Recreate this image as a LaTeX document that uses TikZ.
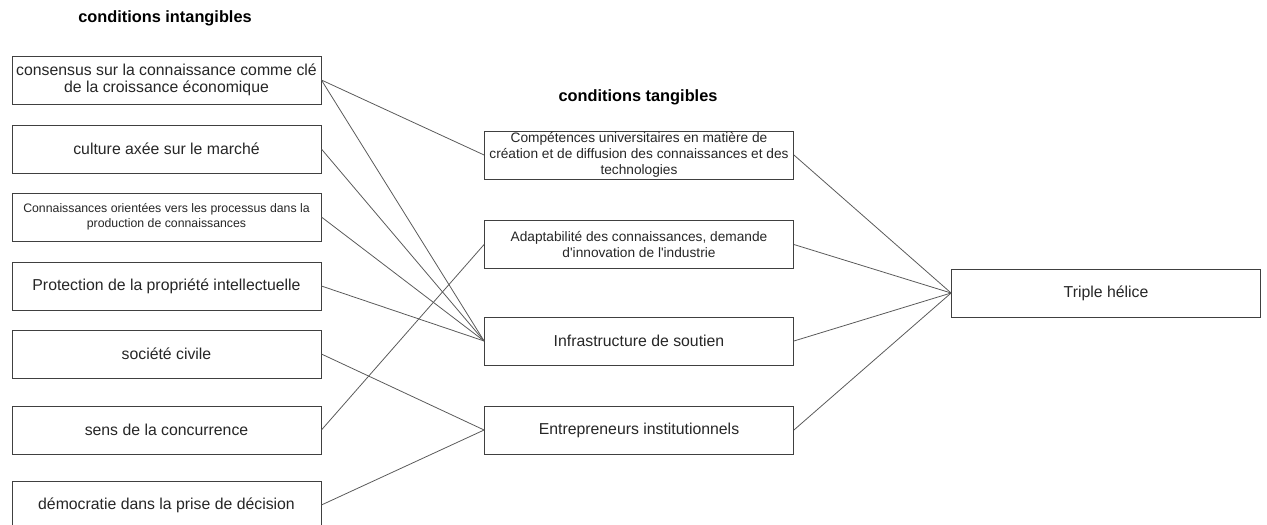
\documentclass[tikz,border=0pt]{standalone}
\usepackage{fontspec}
\setmainfont{Liberation Sans}
\usetikzlibrary{positioning}

\begin{document}
\begin{tikzpicture}[x=0.02cm, y=-0.02cm,
	cond/.style={draw=black!75, line width=0.5pt, minimum width=6.18cm, minimum height=0.96cm, inner sep=0pt, align=center, text=black!85, font=\fontsize{9}{9.7}\selectfont},
	smalltext/.style={font=\fontsize{7}{8.6}\selectfont},
	midtext/.style={font=\fontsize{7.8}{9.1}\selectfont},
	title/.style={font=\bfseries\fontsize{9.3}{11}\selectfont},
	link/.style={draw=black!65, line width=0.45pt}]
	\useasboundingbox (0, 0) rectangle (1267, 524);
	% titres
	\node[title] (titreI) at (165, 18) {conditions intangibles};
	\node[title] (titreT) at (638, 97) {conditions tangibles};
	% conditions intangibles
	\node[cond] (consensus) at (166.5, 80) {consensus sur la connaissance comme clé\\de la croissance économique};
	\node[cond] (culture) at (166.5, 149) {culture axée sur le marché};
	\node[cond, smalltext] (processus) at (166.5, 217) {Connaissances orientées vers les processus dans la\\production de connaissances};
	\node[cond] (propriete) at (166.5, 286) {Protection de la propriété intellectuelle};
	\node[cond] (civile) at (166.5, 354) {société civile};
	\node[cond] (concurrence) at (166.5, 430) {sens de la concurrence};
	\node[cond] (democratie) at (166.5, 505) {démocratie dans la prise de décision};
	% conditions tangibles
	\node[cond, midtext] (competences) at (639, 155) {Compétences universitaires en matière de\\création et de diffusion des connaissances et des\\technologies};
	\node[cond, midtext] (adaptabilite) at (639, 244.5) {Adaptabilité des connaissances, demande\\d\textquotesingle innovation de l\textquotesingle industrie};
	\node[cond] (infra) at (639, 341) {Infrastructure de soutien};
	\node[cond] (entrepreneurs) at (639, 430) {Entrepreneurs institutionnels};
	% triple helice
	\node[cond] (helice) at (1106, 293) {Triple hélice};
	% liens
	\draw[link] (consensus.east) -- (competences.west);
	\draw[link] (consensus.east) -- (infra.west);
	\draw[link] (culture.east) -- (infra.west);
	\draw[link] (processus.east) -- (infra.west);
	\draw[link] (propriete.east) -- (infra.west);
	\draw[link] (civile.east) -- (entrepreneurs.west);
	\draw[link] (concurrence.east) -- (adaptabilite.west);
	\draw[link] (democratie.east) -- (entrepreneurs.west);
	\draw[link] (competences.east) -- (helice.west);
	\draw[link] (adaptabilite.east) -- (helice.west);
	\draw[link] (infra.east) -- (helice.west);
	\draw[link] (entrepreneurs.east) -- (helice.west);
\end{tikzpicture}
\end{document}
